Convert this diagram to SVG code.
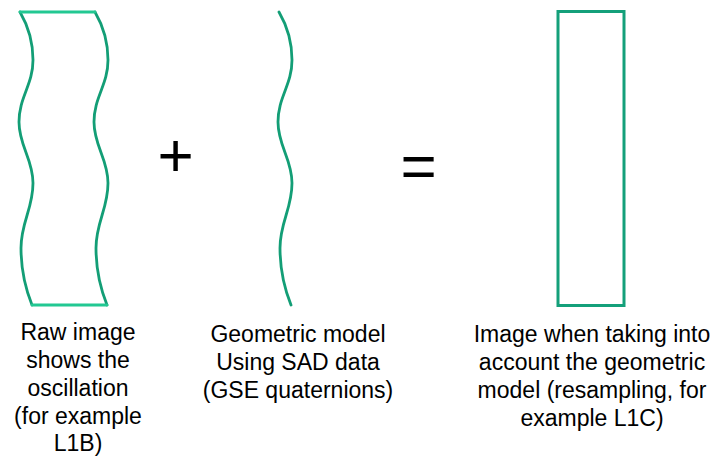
<svg xmlns="http://www.w3.org/2000/svg" width="717" height="457" viewBox="0 0 717 457">
<defs>
<style>
.wave{fill:none;stroke:#139e76;stroke-width:2.8;stroke-linecap:round;stroke-linejoin:round}
.edge{fill:none;stroke:#22c892;stroke-width:2.8;stroke-linecap:round}
.box{fill:none;stroke:#14a07a;stroke-width:3}
.lbl{font-family:"Liberation Sans",Arial,sans-serif;font-size:23px;fill:#000;text-anchor:middle}
.op{font-family:"Liberation Sans",Arial,sans-serif;font-size:62px;fill:#000;text-anchor:middle}
</style>
<path id="w" d="M20,12 C27,24 33,40 33,60 C33,85 19,97 19,122 C19,146 33,159 33,183 C33,209 21,222 21,248 C21,270 26,290 32,305"/>
</defs>
<g id="raw-image">
<use href="#w" class="wave"/>
<use href="#w" class="wave" transform="translate(75,0)"/>
<line class="edge" x1="20" y1="12" x2="95" y2="12"/>
<line class="edge" x1="32" y1="305" x2="107" y2="305"/>
<text class="lbl" x="78" y="340">Raw image</text>
<text class="lbl" x="78" y="368">shows the</text>
<text class="lbl" x="78" y="396">oscillation</text>
<text class="lbl" x="78" y="424">(for example</text>
<text class="lbl" x="78" y="451">L1B)</text>
</g>
<g id="plus"><text class="op" x="175.5" y="176">+</text></g>
<g id="geometric-model">
<use href="#w" class="wave" transform="translate(259,0)"/>
<text class="lbl" x="298" y="342">Geometric model</text>
<text class="lbl" x="298" y="370">Using SAD data</text>
<text class="lbl" x="298" y="398">(GSE quaternions)</text>
</g>
<g id="equals"><text class="op" x="418.5" y="187">=</text></g>
<g id="corrected-image">
<rect class="box" x="558" y="11.5" width="66" height="294"/>
<text class="lbl" x="592" y="342">Image when taking into</text>
<text class="lbl" x="592" y="370">account the geometric</text>
<text class="lbl" x="592" y="398">model (resampling, for</text>
<text class="lbl" x="592" y="426">example L1C)</text>
</g>
<g id="connectors"/>
</svg>
